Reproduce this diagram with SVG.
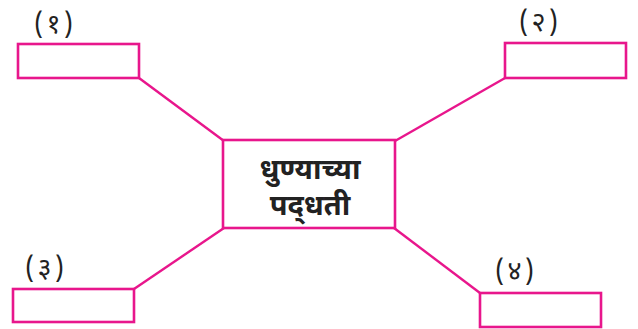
<svg xmlns="http://www.w3.org/2000/svg" width="638" height="329" viewBox="0 0 638 329">
<style>
.box{fill:#fff;stroke:#E8168C;stroke-width:2.6}
.ln{stroke:#E8168C;stroke-width:2.4;fill:none}
.lbl{font-family:"Noto Sans Devanagari","Noto Sans","DejaVu Sans",sans-serif;font-size:27px;fill:#222;letter-spacing:3px}
.ctr{font-family:"Noto Sans Devanagari","Noto Sans","DejaVu Sans",sans-serif;font-size:29px;font-weight:bold;fill:#222;text-anchor:middle}
</style>
<rect width="638" height="329" fill="#fff"/>
<g id="connectors">
<line class="ln" x1="139" y1="78" x2="224" y2="141"/>
<line class="ln" x1="505" y1="78" x2="395" y2="141"/>
<line class="ln" x1="134" y1="289" x2="224" y2="228"/>
<line class="ln" x1="480" y1="293" x2="394" y2="228"/>
</g>
<g id="center">
<rect class="box" x="223" y="140" width="172" height="88"/>
<text class="ctr" x="310" y="179">धुण्याच्या</text>
<text class="ctr" x="310" y="215">पद्&#x200C;धती</text>
</g>
<g id="n1">
<rect class="box" x="18" y="44" width="121" height="34"/>
<text class="lbl" x="34" y="33">(१)</text>
</g>
<g id="n2">
<rect class="box" x="505" y="43" width="121" height="35"/>
<text class="lbl" x="519" y="31">(२)</text>
</g>
<g id="n3">
<rect class="box" x="13" y="289" width="121" height="33"/>
<text class="lbl" x="25" y="277">(३)</text>
</g>
<g id="n4">
<rect class="box" x="480" y="293" width="121" height="34"/>
<text class="lbl" x="495" y="280">(४)</text>
</g>
</svg>
